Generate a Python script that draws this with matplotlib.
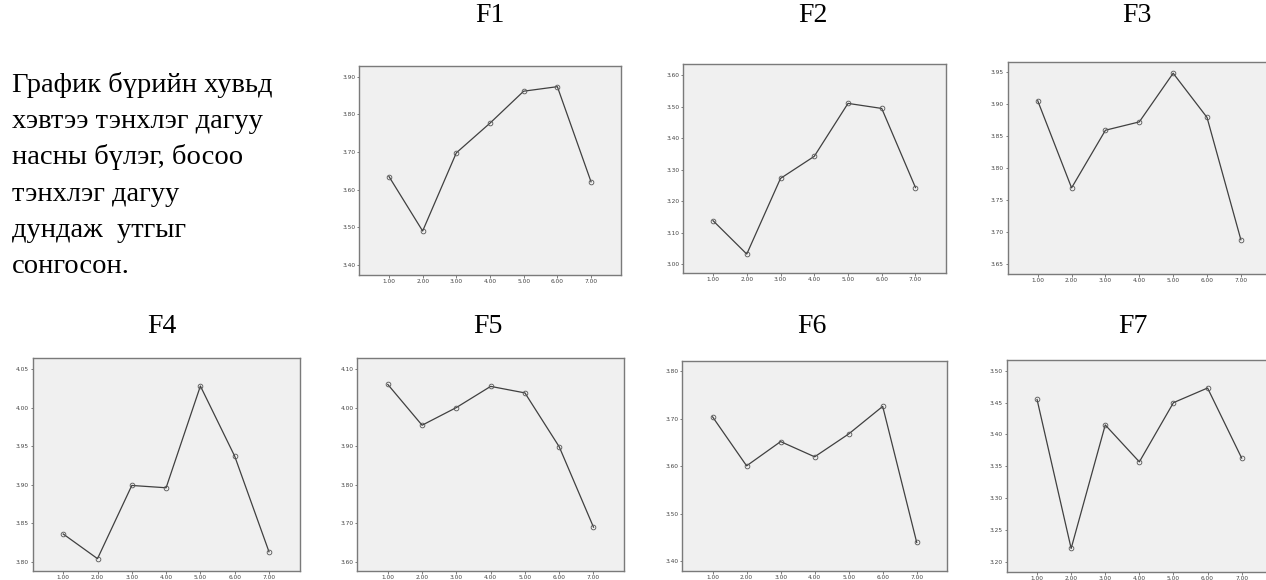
import matplotlib
matplotlib.use("Agg")
import matplotlib.pyplot as plt

# ---- data ----
groups = [1, 2, 3, 4, 5, 6, 7]
x_tick_labels = ["1.00", "2.00", "3.00", "4.00", "5.00", "6.00", "7.00"]

titles = ["F1", "F2", "F3", "F4", "F5", "F6", "F7"]

f1 = [3.635, 3.490, 3.698, 3.777, 3.862, 3.874, 3.621]
f2 = [3.138, 3.032, 3.272, 3.342, 3.510, 3.494, 3.243]
f3 = [3.905, 3.769, 3.859, 3.872, 3.948, 3.879, 3.688]
f4 = [3.836, 3.804, 3.899, 3.896, 4.028, 3.937, 3.813]
f5 = [4.061, 3.955, 4.001, 4.056, 4.039, 3.899, 3.690]
f6 = [3.704, 3.601, 3.652, 3.620, 3.668, 3.726, 3.440]
f7 = [3.455, 3.221, 3.415, 3.357, 3.450, 3.473, 3.363]

f1_yticks = ["3.40", "3.50", "3.60", "3.70", "3.80", "3.90"]
f2_yticks = ["3.00", "3.10", "3.20", "3.30", "3.40", "3.50", "3.60"]
f3_yticks = ["3.65", "3.70", "3.75", "3.80", "3.85", "3.90", "3.95"]
f4_yticks = ["3.80", "3.85", "3.90", "3.95", "4.00", "4.05"]
f5_yticks = ["3.60", "3.70", "3.80", "3.90", "4.00", "4.10"]
f6_yticks = ["3.40", "3.50", "3.60", "3.70", "3.80"]
f7_yticks = ["3.20", "3.25", "3.30", "3.35", "3.40", "3.45", "3.50"]

series = [f1, f2, f3, f4, f5, f6, f7]
yticks = [f1_yticks, f2_yticks, f3_yticks, f4_yticks, f5_yticks, f6_yticks, f7_yticks]

note_lines = ["График бүрийн хувьд", "хэвтээ тэнхлэг дагуу", "насны бүлэг, босоо",
              "тэнхлэг дагуу", "дундаж  утгыг", "сонгосон."]

# ---- layout (pixels: left, right, top, bottom) ----
W, H = 1266, 580
boxes = [
    (359, 621, 66, 275),
    (683, 945.5, 64.3, 273.3),
    (1007.6, 1271, 61.7, 274.3),
    (32.7, 299.5, 358.3, 571),
    (357.3, 624, 358.3, 571),
    (682.3, 947, 360.7, 571),
    (1006.7, 1272, 360, 572),
]
ylims = [
    (3.373, 3.929),
    (2.971, 3.634),
    (3.634, 3.966),
    (3.788, 4.064),
    (3.576, 4.129),
    (3.380, 3.822),
    (3.184, 3.517),
]
title_pos = [(490, 22), (813, 22), (1137, 22), (162, 333), (488, 333), (812, 333), (1133, 333)]

fig = plt.figure(figsize=(W / 100, H / 100), dpi=100)
fig.patch.set_facecolor("white")

for i in range(7):
    l, r, t, b = boxes[i]
    ax = fig.add_axes([l / W, (H - b) / H, (r - l) / W, (b - t) / H])
    ax.set_facecolor("#f0f0f0")
    ax.plot(groups, series[i], color="#404040", lw=0.9,
            marker="o", ms=3.4, mfc="none", mec="#555555", mew=0.6)
    ax.set_xlim(0.11, 7.89)
    ax.set_ylim(*ylims[i])
    ax.set_xticks(groups)
    ax.set_xticklabels(x_tick_labels)
    yt = [float(s) for s in yticks[i]]
    ax.set_yticks(yt)
    ax.set_yticklabels(yticks[i])
    ax.tick_params(axis="both", labelsize=4.2, labelcolor="#444444", color="#666666",
                   length=1.8, width=0.6, pad=0.8, direction="out")
    ax.tick_params(top=False, right=False)
    for sp in ax.spines.values():
        sp.set_color("#7a7a7a")
        sp.set_linewidth(1.0)
    tx, ty = title_pos[i]
    fig.text(tx / W, (H - ty) / H, titles[i], ha="center", va="baseline",
             fontsize=20, family="Liberation Serif", color="black")

for k, line in enumerate(note_lines):
    by = 91.7 + 36.3 * k
    fig.text(12 / W, (H - by) / H, line, ha="left", va="baseline",
             fontsize=20.5, family="Liberation Serif", color="black")

fig.savefig("out.png", dpi=100, facecolor="white")
